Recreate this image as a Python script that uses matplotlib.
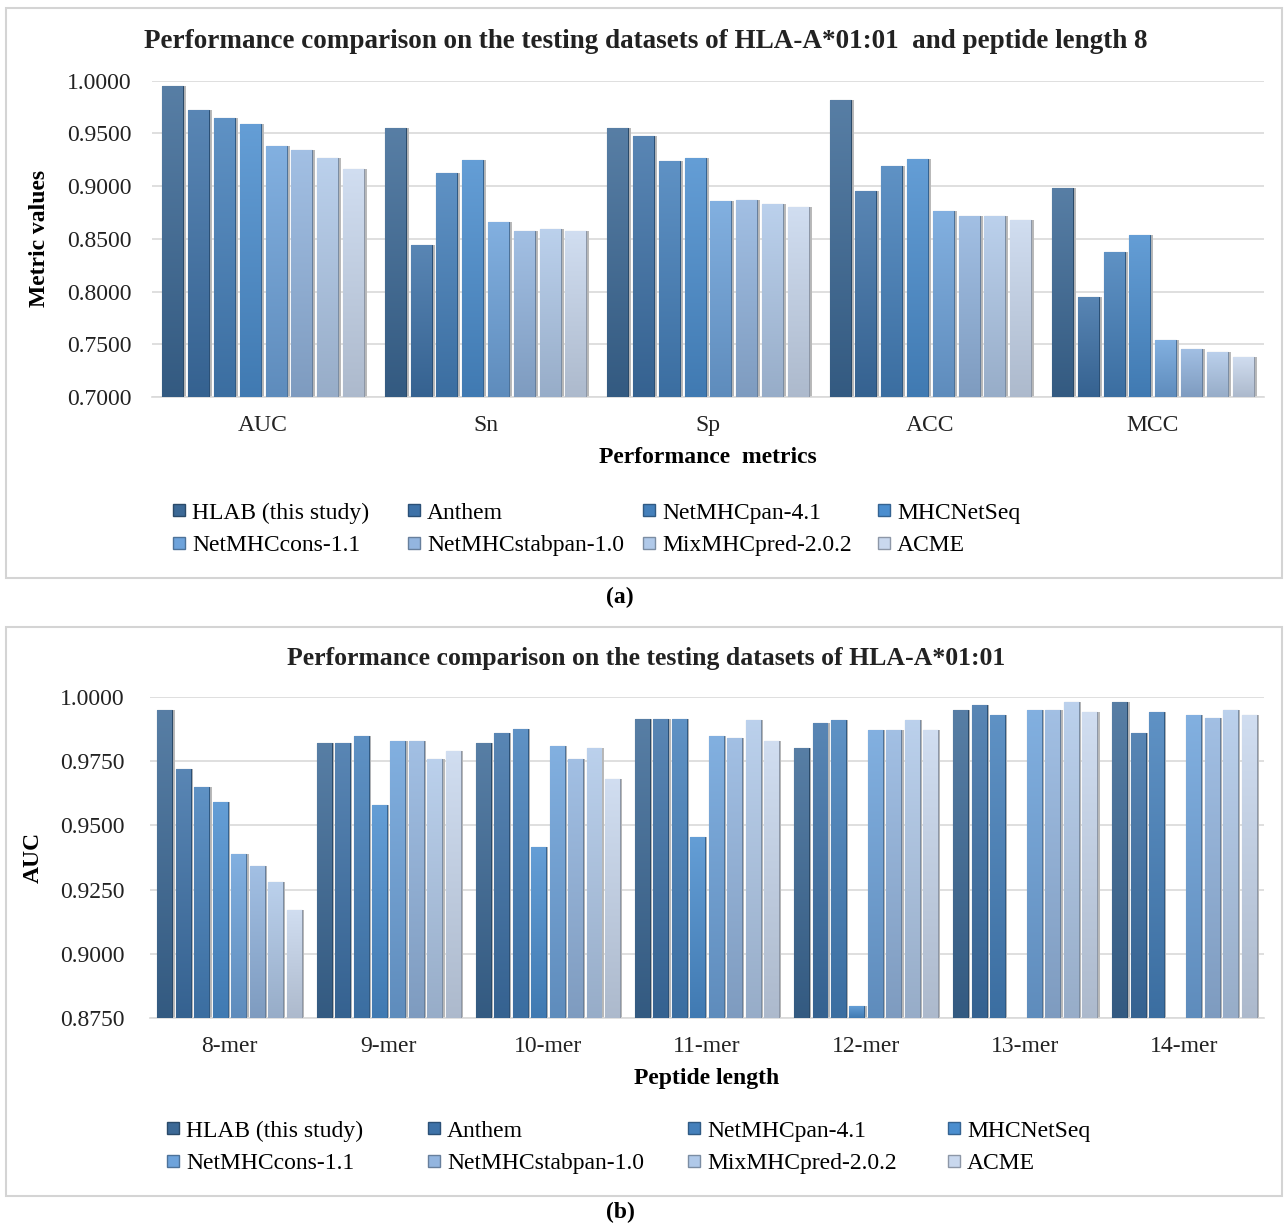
import numpy as np
import matplotlib
matplotlib.use("Agg")
import matplotlib.pyplot as plt
from matplotlib.patches import Rectangle
from matplotlib.lines import Line2D
from matplotlib.colors import to_rgb

plt.rcParams['font.family'] = ['Liberation Serif', 'DejaVu Serif']

# --- data ---
models = ['HLAB (this study)', 'Anthem', 'NetMHCpan-4.1', 'MHCNetSeq',
          'NetMHCcons-1.1', 'NetMHCstabpan-1.0', 'MixMHCpred-2.0.2', 'ACME']
colors = ['#3c6996', '#3e72a8', '#4580bb', '#4b8ecf',
          '#6ea3db', '#93b5df', '#b0c9e9', '#c9d8ee']

metrics = ['AUC', 'Sn', 'Sp', 'ACC', 'MCC']
hlab_a = [0.995, 0.955, 0.955, 0.982, 0.898]
anthem_a = [0.972, 0.844, 0.948, 0.895, 0.795]
netmhcpan_a = [0.965, 0.912, 0.924, 0.919, 0.838]
mhcnetseq_a = [0.959, 0.925, 0.927, 0.926, 0.854]
netmhccons_a = [0.938, 0.866, 0.886, 0.876, 0.754]
stabpan_a = [0.934, 0.857, 0.887, 0.872, 0.746]
mixmhc_a = [0.927, 0.859, 0.883, 0.872, 0.743]
acme_a = [0.916, 0.857, 0.880, 0.868, 0.738]

lengths = ['8-mer', '9-mer', '10-mer', '11-mer', '12-mer', '13-mer', '14-mer']
hlab_b = [0.995, 0.982, 0.982, 0.9915, 0.980, 0.995, 0.998]
anthem_b = [0.972, 0.982, 0.986, 0.9915, 0.990, 0.997, 0.986]
netmhcpan_b = [0.965, 0.985, 0.9875, 0.9915, 0.991, 0.993, 0.994]
mhcnetseq_b = [0.959, 0.958, 0.9415, 0.9455, 0.8795, np.nan, np.nan]
netmhccons_b = [0.939, 0.983, 0.981, 0.985, 0.987, 0.995, 0.993]
stabpan_b = [0.934, 0.983, 0.976, 0.984, 0.987, 0.995, 0.992]
mixmhc_b = [0.928, 0.976, 0.980, 0.991, 0.991, 0.998, 0.995]
acme_b = [0.917, 0.979, 0.968, 0.983, 0.987, 0.994, 0.993]

series_a = [hlab_a, anthem_a, netmhcpan_a, mhcnetseq_a, netmhccons_a, stabpan_a, mixmhc_a, acme_a]
series_b = [hlab_b, anthem_b, netmhcpan_b, mhcnetseq_b, netmhccons_b, stabpan_b, mixmhc_b, acme_b]

W, H = 1285, 1225


def mix(c, other, t):
    c = np.array(to_rgb(c))
    return tuple(c * (1 - t) + np.array(other) * t)


def draw_panel(ax, cats, series, ymin, ymax, step):
    pitch, width = 0.116, 0.094
    x = np.arange(len(cats))
    for i, (vals, col) in enumerate(zip(series, colors)):
        off = (i - 3.5) * pitch
        top = mix(col, (1, 1, 1), 0.14)
        bot = mix(col, (0, 0, 0), 0.14)
        grad = np.linspace(0, 1, 64)[:, None, None] * (np.array(bot) - np.array(top)) + np.array(top)
        for xi, v in zip(x, vals):
            if np.isnan(v):
                continue
            ax.bar(xi + off + 0.014, v - ymin, width, bottom=ymin, color='#b9b9b9', zorder=2, lw=0)
            b = ax.bar(xi + off, v - ymin, width, bottom=ymin, color=col,
                       edgecolor=mix(col, (0, 0, 0), 0.3), lw=0.8, zorder=3)[0]
            im = ax.imshow(grad, extent=[xi + off - width / 2, xi + off + width / 2, ymin, v],
                           aspect='auto', origin='upper', zorder=3.5, interpolation='bilinear')
            im.set_clip_path(b)
    ax.set_xlim(-0.5, len(cats) - 0.5)
    ax.set_ylim(ymin, ymax)
    ax.set_yticks(np.arange(ymin, ymax + step / 2, step))
    ax.yaxis.set_major_formatter(plt.FormatStrFormatter('%.4f'))
    ax.set_xticks(x)
    ax.set_xticklabels(cats)
    ax.grid(axis='y', color='#d9d9d9', lw=1.2, zorder=0)
    ax.set_axisbelow(True)
    for s in ['top', 'right', 'left']:
        ax.spines[s].set_visible(False)
    ax.spines['bottom'].set_color('#d9d9d9')
    ax.spines['bottom'].set_linewidth(1.2)
    ax.tick_params(length=0, labelsize=17, colors='#222222')
    ax.tick_params(axis='y', pad=15)
    ax.tick_params(axis='x', pad=13)


def column_legends(col_x, row_y, spacing):
    # one small legend per column so the columns sit where the reference has them
    for c in range(4):
        idx = [c, c + 4]
        hs = [Line2D([], [], marker='s', ls='none', markersize=8, color=colors[i],
                     markeredgecolor=mix(colors[i], (0, 0, 0), 0.3)) for i in idx]
        fig.legend(hs, [models[i] for i in idx], loc='upper left',
                   bbox_to_anchor=(col_x[c] / W, 1 - row_y / H), frameon=False, fontsize=17,
                   handlelength=0.6, handletextpad=0.25, labelspacing=spacing,
                   borderpad=0, borderaxespad=0)


fig = plt.figure(figsize=(W / 100, H / 100), dpi=100)

# panel frames
fig.patches.append(Rectangle((6 / W, 1 - 578 / H), 1276 / W, 570 / H, transform=fig.transFigure,
                             fill=False, edgecolor='#d4d4d4', lw=1.5))
fig.patches.append(Rectangle((6 / W, 1 - 1196 / H), 1276 / W, 569 / H, transform=fig.transFigure,
                             fill=False, edgecolor='#d4d4d4', lw=1.5))

ax1 = fig.add_axes([152 / W, 1 - 397 / H, (1264 - 152) / W, (397 - 80.7) / H])
draw_panel(ax1, metrics, series_a, 0.70, 1.0, 0.05)
ax1.set_ylabel('Metric values', fontsize=17, fontweight='bold', labelpad=12)
ax1.set_xlabel('Performance  metrics', fontsize=17, fontweight='bold', labelpad=8)

ax2 = fig.add_axes([150 / W, 1 - 1018 / H, (1264 - 150) / W, (1018 - 697) / H])
draw_panel(ax2, lengths, series_b, 0.875, 1.0, 0.025)
ax2.tick_params(axis='y', pad=18)
ax2.set_ylabel('AUC', fontsize=17, fontweight='bold', labelpad=12)
ax2.set_xlabel('Peptide length', fontsize=17, fontweight='bold', labelpad=8)

fig.text(646 / W, 1 - 42 / H, 'Performance comparison on the testing datasets of HLA-A*01:01  and peptide length 8',
         ha='center', va='center', fontsize=19.5, fontweight='bold', color='#222222')
fig.text(646 / W, 1 - 658 / H, 'Performance comparison on the testing datasets of HLA-A*01:01',
         ha='center', va='center', fontsize=18.5, fontweight='bold', color='#222222')
fig.text(620 / W, 1 - 597 / H, '(a)', ha='center', va='center', fontsize=17, fontweight='bold')
fig.text(620 / W, 1 - 1212 / H, '(b)', ha='center', va='center', fontsize=17, fontweight='bold')

column_legends([172, 407, 642, 877], 502, 0.48)
column_legends([166, 427, 687, 947], 1120, 0.48)

fig.savefig('out.png', dpi=100)
